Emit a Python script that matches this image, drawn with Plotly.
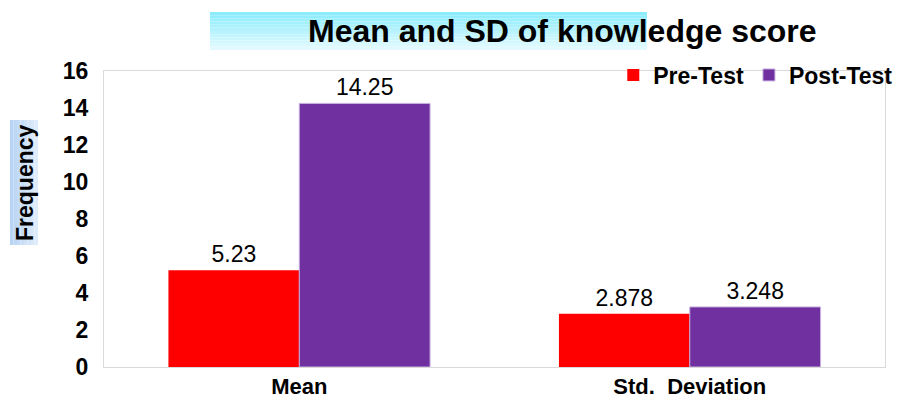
import plotly.graph_objects as go

categories = ["Mean", "Std.  Deviation"]
pre_test = [5.23, 2.878]
post_test = [14.25, 3.248]
pre_labels = ["5.23", "2.878"]
post_labels = ["14.25", "3.248"]
series_names = ["Pre-Test", "Post-Test"]
y_ticks = [0, 2, 4, 6, 8, 10, 12, 14, 16]

W, H = 900, 401
L, R, T, B = 104, 15, 71, 34
PW, PH = W - L - R, H - T - B

def px_x(p):
    return (p - L) / PW

def px_y(p):
    return (H - B - p) / PH

FONT = "Liberation Sans, Arial, sans-serif"

fig = go.Figure()
fig.add_trace(go.Bar(
    name=series_names[0], x=categories, y=pre_test,
    marker=dict(color="#FF0000", line=dict(width=0)),
    text=pre_labels, textposition="outside", cliponaxis=False,
    textfont=dict(size=23, color="black", family=FONT),
))
fig.add_trace(go.Bar(
    name=series_names[1], x=categories, y=post_test,
    marker=dict(color="#7030A0", line=dict(width=1, color="#C9B3E0")),
    text=post_labels, textposition="outside", cliponaxis=False,
    textfont=dict(size=23, color="black", family=FONT),
))

# title gradient box
x0, x1 = px_x(210), px_x(647)
top, bot = 12, 50
n = 12
c_top = (140, 236, 252)
c_bot = (226, 250, 255)
for i in range(n):
    t = i / (n - 1)
    c = tuple(int(round(c_top[k] + (c_bot[k] - c_top[k]) * t)) for k in range(3))
    ya = top + (bot - top) * i / n
    yb = top + (bot - top) * (i + 1) / n
    fig.add_shape(type="rect", xref="paper", yref="paper",
                  x0=x0, x1=x1, y0=px_y(yb), y1=px_y(ya),
                  fillcolor="rgb(%d,%d,%d)" % c, line=dict(width=0), layer="below")

# y-axis title box gradient
bx0, bx1 = 10, 38
by0, by1 = 120, 245
m = 8
l_col = (184, 212, 244)
r_col = (222, 235, 250)
for i in range(m):
    t = i / (m - 1)
    c = tuple(int(round(l_col[k] + (r_col[k] - l_col[k]) * t)) for k in range(3))
    xa = bx0 + (bx1 - bx0) * i / m
    xb = bx0 + (bx1 - bx0) * (i + 1) / m
    fig.add_shape(type="rect", xref="paper", yref="paper",
                  x0=px_x(xa), x1=px_x(xb), y0=px_y(by1), y1=px_y(by0),
                  fillcolor="rgb(%d,%d,%d)" % c, line=dict(width=0), layer="below")

fig.add_annotation(text="<b>Mean and SD of knowledge score</b>", xref="paper", yref="paper",
                   x=px_x(562), y=px_y(31), xanchor="center", yanchor="middle",
                   showarrow=False, font=dict(size=32, color="black", family=FONT))

fig.add_annotation(text="<b>Frequency</b>", xref="paper", yref="paper",
                   x=px_x(25), y=px_y(183), xanchor="center", yanchor="middle",
                   textangle=-90, showarrow=False,
                   font=dict(size=23, color="black", family=FONT))

fig.update_layout(
    width=W, height=H,
    margin=dict(l=L, r=R, t=T, b=B, autoexpand=False),
    paper_bgcolor="white", plot_bgcolor="white",
    barmode="group", bargap=0.33, bargroupgap=0,
    font=dict(family=FONT, color="black"),
    showlegend=True,
    legend=dict(orientation="h", x=1.017, xanchor="right", y=px_y(75), yanchor="middle",
                font=dict(size=23, color="black", family=FONT, weight="bold"),
                bgcolor="rgba(0,0,0,0)", itemwidth=30, traceorder="normal"),
)
fig.update_xaxes(showline=True, linecolor="#D9D9D9", linewidth=1, mirror=True,
                 ticks="", automargin=False, ticklabelstandoff=0,
                 tickfont=dict(size=22, color="black", family=FONT, weight="bold"))
fig.update_yaxes(range=[0, 16], tickvals=y_ticks, showgrid=False, zeroline=False,
                 showline=True, linecolor="#D9D9D9", linewidth=1, mirror=True,
                 ticks="", ticklabelstandoff=10, automargin=False,
                 tickfont=dict(size=23, color="black", family=FONT, weight="bold"))

fig.write_html("out.html", config={"displayModeBar": False},
               post_script="document.body.style.margin='0';document.body.style.overflow='hidden';")
